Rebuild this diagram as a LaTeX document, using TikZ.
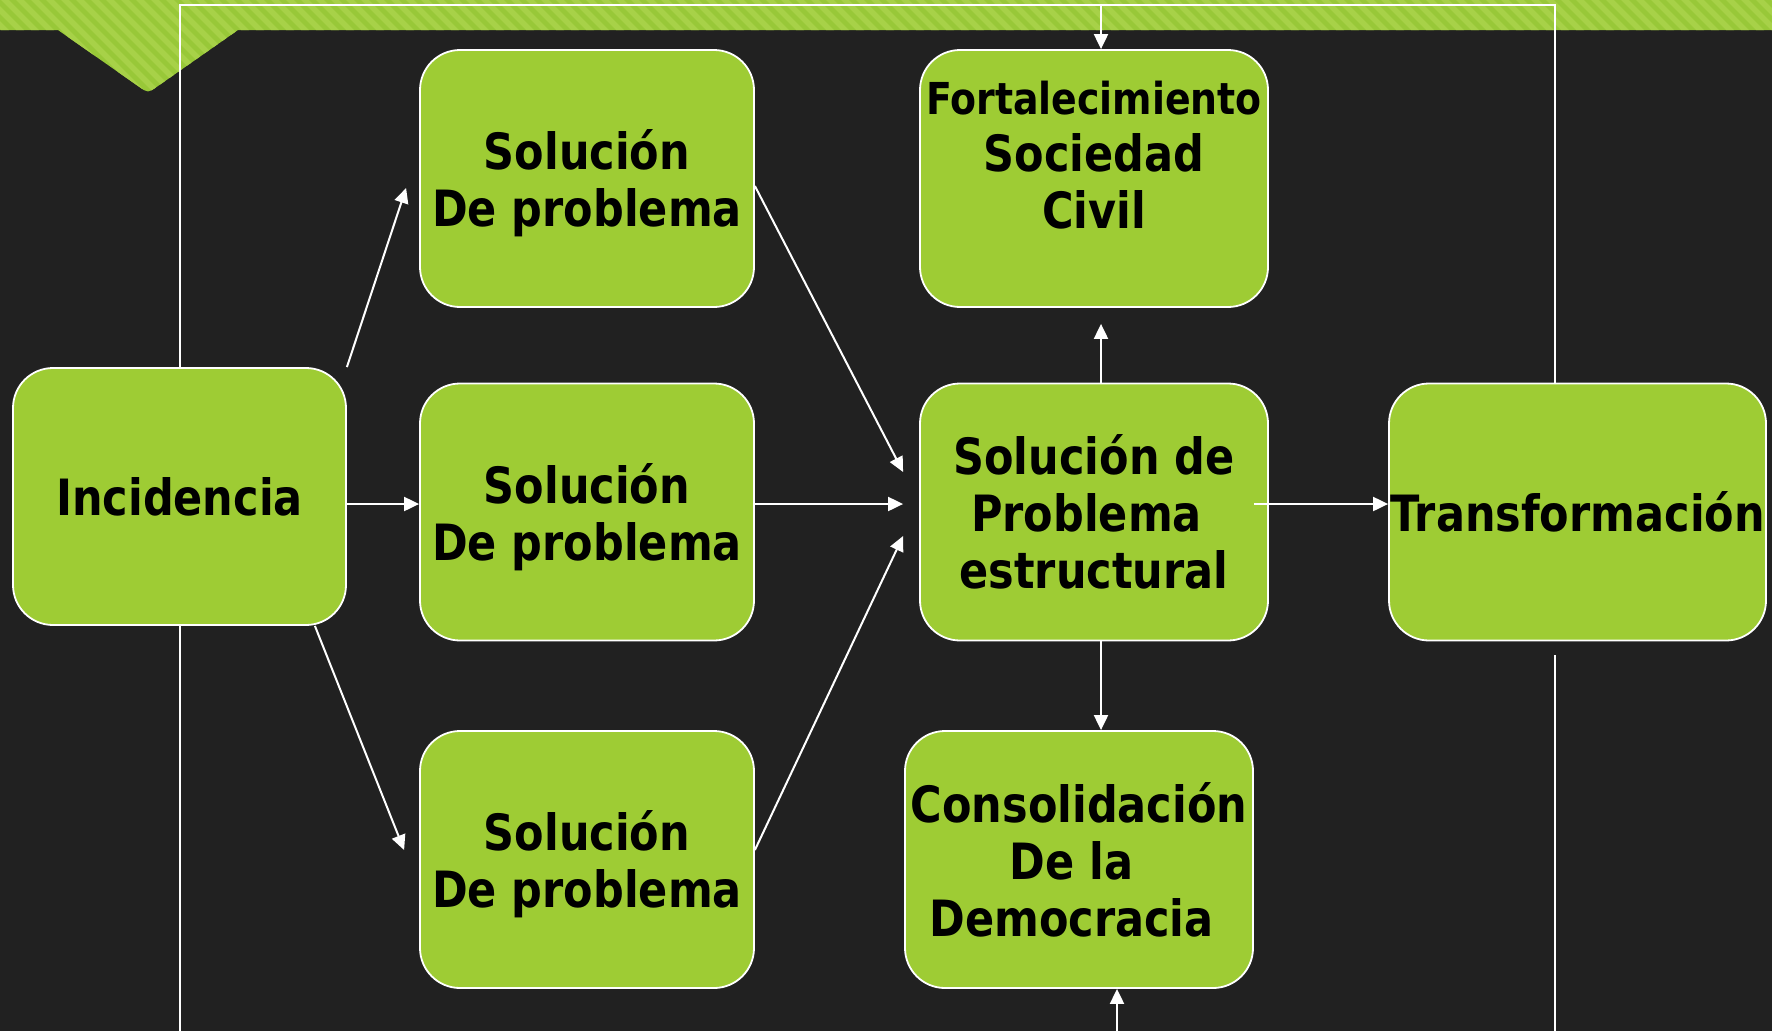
\documentclass[tikz,border=0pt]{standalone}
\usepackage{fontspec}
\newfontfamily\boxfont{DejaVu Sans}[FakeStretch=0.86]
\usetikzlibrary{arrows.meta}
\definecolor{bg}{HTML}{212121}
\definecolor{boxgreen}{RGB}{158,204,52}
\definecolor{banA}{RGB}{152,200,56}
\definecolor{banB}{RGB}{167,209,72}
\newcommand{\toplift}{\rule{0pt}{50pt}}
\newcommand{\trail}{\rule{0.3em}{0pt}}
\begin{document}
\begin{tikzpicture}[x=1pt,y=-1pt,
  box/.style={draw=white, line width=1.8pt, fill=boxgreen, rounded corners=40pt,
    minimum width=#1, minimum height=257pt, inner sep=0pt, align=center,
    font=\boxfont\bfseries\fontsize{50}{57}\selectfont, text=black},
  box/.default=334pt,
  conn/.style={draw=white, line width=2pt},
  arr/.style={conn, -{Triangle[length=15pt,width=14pt]}}]
% background
\fill[bg] (0,0) rectangle (1772,1031);
\useasboundingbox (0,0) rectangle (1772,1031);
% banner
\begin{scope}
\clip (0,0) -- (1772,0) -- (1772,30) -- (238,30) -- (157,86.7)
  .. controls (148,93) .. (139,86.7) -- (58,30) -- (0,30) -- cycle;
\fill[banA] (0,0) rectangle (1772,100);
\foreach \i in {-10,...,125}
  \draw[banB, line width=5.5pt] (\i*15,-5) -- ++(110,110);
\end{scope}
% named points of the free line ends
\coordinate (tr) at (1555,5);
\coordinate (ft) at (1101,5);
\coordinate (br1) at (1555,655);
\coordinate (br2) at (1555,1031);
\coordinate (cb) at (1117,1031);
% nodes
\node[box=333pt] (inc) at (179.5,496.5) {Incidencia};
\node[box] (s1) at (587,178.5) {\toplift Solución\\De problema};
\node[box] (s2) at (587,512) {\toplift Solución\\De problema};
\node[box] (s3) at (587,859.5) {\toplift Solución\\De problema};
\node[box=348pt] (fort) at (1094,178.5) {{\fontsize{44}{57}\selectfont Fortalecimiento}\\Sociedad\\Civil\\[-9pt]\mbox{}};
\node[box=348pt] (sol) at (1094,512) {Solución de\\Problema\trail\\estructural};
\node[box=348pt] (cons) at (1079,859.5) {Consolidación\\De la\trail\\Democracia\trail};
\node[box=377pt] (trans) at (1577.5,512) {Transformación};
\coordinate (fb) at ([yshift=-16pt]fort.south);
\coordinate (tl) at (inc.north |- ft);
\coordinate (bl) at (inc.south |- cb);
% frame lines
\draw[conn] (inc.north) -- (tl) -- (tr) -- (tr |- trans.north);
\draw[conn] (inc.south) -- (bl);
\draw[conn] (br1) -- (br2);
\draw[arr] (ft) -- (ft |- fort.north);
\draw[arr] (cb) -- (cb |- cons.south);
% connectors from Incidencia
\draw[arr] (inc.north east) -- ([xshift=-13pt,yshift=-9.5pt]s1.west);
\draw[arr] ([yshift=-7.5pt]inc.east) -- ([yshift=-7.5pt]inc.east -| s2.west);
\draw[arr] ([xshift=-32pt]inc.south east) -- ([xshift=-15pt,yshift=9.5pt]s3.west);
% connectors to structural solution
\draw[arr] ([yshift=-7.5pt]s1.east) -- ([xshift=-16pt,yshift=40pt]sol.west);
\draw[arr] ([yshift=8pt]s2.east) -- ([xshift=-16pt,yshift=8pt]sol.west);
\draw[arr] ([yshift=9.5pt]s3.east) -- ([xshift=-16pt,yshift=-24pt]sol.west);
% from structural solution
\draw[arr] ([xshift=7pt]sol.north) -- ([xshift=7pt]sol.north |- fb);
\draw[arr] ([xshift=7pt]sol.south) -- ([xshift=7pt]sol.south |- cons.north);
\draw[arr] ([xshift=-15pt,yshift=8pt]sol.east) -- ([yshift=8pt]sol.east -| trans.west);
\end{tikzpicture}
\end{document}
